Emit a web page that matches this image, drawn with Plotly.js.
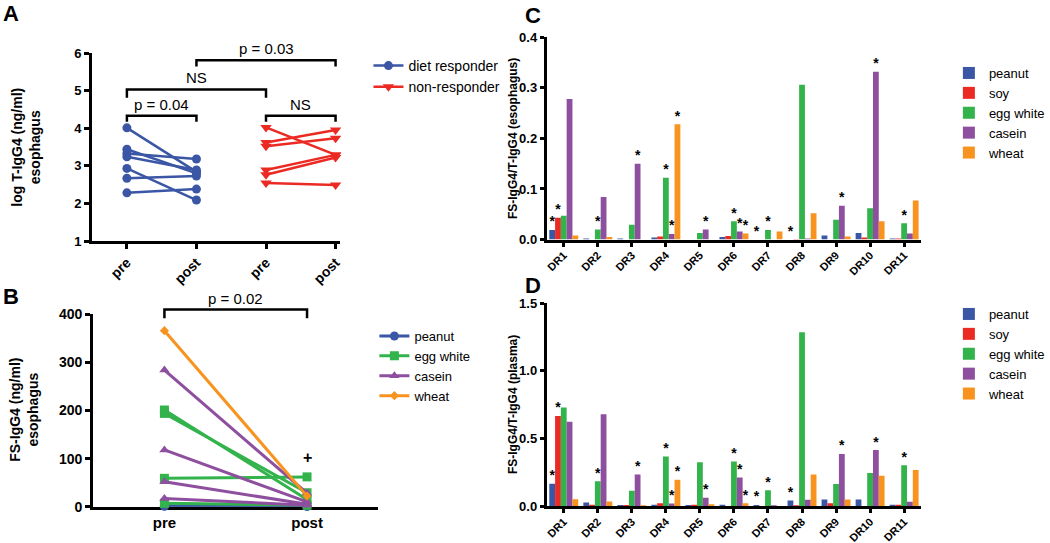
<!DOCTYPE html>
<html>
<head>
<meta charset="utf-8">
<script src="https://cdn.plot.ly/plotly-3.0.1.min.js"></script>
<style>
	html, body { margin: 0; padding: 0; background: #fff; }
	#chart { width: 1050px; height: 543px; }
</style>
</head>
<body>
<div id="chart"></div>
<script>
(function(){

	'use strict';

	/**
	* Data
	*/
	// A - log T-IgG4, esophagus
	const aTickLabels = ['pre', 'post', 'pre', 'post'];
	const responderPre  = [4.01, 3.44, 3.33, 3.24, 2.93, 2.67, 2.28];
	const responderPost = [2.84, 2.80, 3.18, 2.89, 2.09, 2.73, 2.38];
	const nonResponderPre  = [4.02, 3.62, 3.52, 2.89, 2.76, 2.54];
	const nonResponderPost = [3.29, 3.95, 3.73, 3.29, 3.22, 2.49];
	const aBrackets = [ [0, 1, 4.33, 4.17], [0, 2, 5.03, 4.81], [1, 3, 5.81, 5.64], [2, 3, 4.33, 4.17] ];
	const aBracketLabels = ['p = 0.04', 'NS', 'p = 0.03', 'NS'];

	// B - FS-IgG4, esophagus (one pre/post pair per patient)
	const bTickLabels = ['pre', 'post'];
	const peanutPre  = [1, 2];
	const peanutPost = [1, 1];
	const eggPre  = [201, 194, 59, 7];
	const eggPost = [15, 29, 62, 3];
	const caseinPre  = [284, 118, 52, 17];
	const caseinPost = [28, 10, 5, 3];
	const wheatPre  = [366];
	const wheatPost = [22];
	const bBracket = [0, 1, 410, 392];
	const bBracketLabel = 'p = 0.02';
	const bPlus = [1, 103];

	// C & D - FS-IgG4/T-IgG4
	const drLabels = ['DR1','DR2','DR3','DR4','DR5','DR6','DR7','DR8','DR9','DR10','DR11'];
	const allergens = ['peanut', 'soy', 'egg white', 'casein', 'wheat'];

	const esoPeanut = [0.019, 0.002, 0.002, 0.004, 0, 0.005, 0, 0, 0.008, 0.013, 0.002];
	const esoSoy    = [0.043, 0, 0, 0.006, 0, 0.007, 0, 0.001, 0, 0.004, 0.002];
	const esoEgg    = [0.047, 0.020, 0.029, 0.122, 0.013, 0.036, 0.019, 0.306, 0.039, 0.062, 0.032];
	const esoCasein = [0.278, 0.084, 0.150, 0.011, 0.020, 0.016, 0, 0.002, 0.067, 0.332, 0.012];
	const esoWheat  = [0.008, 0.005, 0, 0.228, 0, 0.012, 0.016, 0.052, 0.006, 0.036, 0.077];

	const plasmaPeanut = [0.165, 0.026, 0.008, 0.010, 0.008, 0.010, 0.008, 0.041, 0.049, 0.049, 0.010];
	const plasmaSoy    = [0.666, 0.010, 0.008, 0.020, 0.010, 0, 0, 0.005, 0.020, 0, 0.010];
	const plasmaEgg    = [0.728, 0.184, 0.112, 0.366, 0.323, 0.330, 0.116, 1.285, 0.163, 0.244, 0.301];
	const plasmaCasein = [0.624, 0.679, 0.234, 0.018, 0.061, 0.210, 0.006, 0.046, 0.385, 0.414, 0.032];
	const plasmaWheat  = [0.050, 0.033, 0.005, 0.195, 0.013, 0.021, 0, 0.234, 0.049, 0.224, 0.266];

	// significance (*) flags, same in C and D
	const starPeanut = [1,0,0,0,0,0,1,1,0,0,0];
	const starSoy    = [1,0,0,0,0,0,0,0,0,0,0];
	const starEgg    = [0,1,0,1,0,1,1,0,0,0,1];
	const starCasein = [0,0,1,1,1,1,0,0,1,1,0];
	const starWheat  = [0,0,0,1,0,1,0,0,0,0,0];

	/**
	* Styles
	*/
	const FONT = '"Liberation Sans", Arial, sans-serif';
	const colors = {
		blue: '#3b56a5',
		red: '#ec2a24',
		green: '#33b34b',
		purple: '#8e4f9f',
		orange: '#f7931e',
	};
	const allergenColors = [ colors.blue, colors.red, colors.green, colors.purple, colors.orange ];

	// page pixels -> paper
	const W = 1050, H = 543;
	const px = ( x ) => x / W;
	const py = ( y ) => 1 - y / H;

	// panel boxes (pixels)
	const box = {
		a: { x: [93, 343], y: [241, 53] },
		b: { x: [94, 382], y: [506.7, 314.3] },
		c: { x: [552, 930], y: [239.5, 37.3] },
		d: { x: [552, 930], y: [506, 303.3] },
	};
	const xDomain = ( b ) => [ px( b.x[0] ), px( b.x[1] ) ];
	const yDomain = ( b ) => [ py( b.y[0] ), py( b.y[1] ) ];

	// data value -> paper (for marks above the plot area)
	const toPaperY = ( domain, range, v ) => domain[0] + ( v - range[0] ) / ( range[1] - range[0] ) * ( domain[1] - domain[0] );

	const boldFont = ( size ) => ({ family: FONT, size, weight: 'bold', color: '#000' });

	const axisBase = {
		showline: true,
		linecolor: '#000',
		linewidth: 3,
		showgrid: false,
		zeroline: false,
		ticks: 'outside',
		ticklen: 5,
		tickwidth: 3,
		tickcolor: '#000',
		fixedrange: true,
		tickfont: boldFont( 13 ),
	};

	const traces = [];

	/**
	* A & B - paired pre/post lines, one trace per patient
	*/
	const pairTraces = ( pre, post, x0, x1, opts ) => {
		pre.forEach(( v, i ) => {
			traces.push({
				type: 'scatter',
				mode: 'lines+markers',
				x: [ x0, x1 ],
				y: [ v, post[i] ],
				xaxis: opts.xaxis,
				yaxis: opts.yaxis,
				name: opts.name,
				legend: opts.legend,
				legendgroup: opts.name,
				showlegend: i === 0,
				line: { color: opts.color, width: opts.width || 2.5 },
				marker: { color: opts.color, symbol: opts.symbol, size: opts.size },
				cliponaxis: false,
				hoverinfo: 'skip',
			});
		});
	};

	pairTraces( responderPre, responderPost, 0, 1, {
		xaxis: 'x', yaxis: 'y', name: 'diet responder', legend: 'legend',
		color: colors.blue, symbol: 'circle', size: 9,
	});
	pairTraces( nonResponderPre, nonResponderPost, 2, 3, {
		xaxis: 'x', yaxis: 'y', name: 'non-responder', legend: 'legend',
		color: colors.red, symbol: 'triangle-down', size: 10,
	});

	const bSeries = [
		{ name: 'peanut', pre: peanutPre, post: peanutPost, color: colors.blue, symbol: 'circle', size: 9 },
		{ name: 'egg white', pre: eggPre, post: eggPost, color: colors.green, symbol: 'square', size: 9 },
		{ name: 'casein', pre: caseinPre, post: caseinPost, color: colors.purple, symbol: 'triangle-up', size: 9 },
		{ name: 'wheat', pre: wheatPre, post: wheatPost, color: colors.orange, symbol: 'diamond', size: 7 },
	];
	bSeries.forEach( s => {
		pairTraces( s.pre, s.post, 0, 1, {
			xaxis: 'x2', yaxis: 'y2', name: s.name, legend: 'legend2',
			color: s.color, symbol: s.symbol, size: s.size, width: 3,
		});
	});

	/**
	* C & D - grouped bars, with explicit offsets so the stars can sit on them
	*/
	const barWidth = 0.17;
	const barOffset = ( k ) => -allergens.length * barWidth / 2 + k * barWidth;
	const idx = drLabels.map(( d, i ) => i );

	const barPanel = ( series, stars, xaxis, yaxis, legend ) => {
		series.forEach(( vals, k ) => {
			traces.push({
				type: 'bar',
				x: idx,
				y: vals,
				width: barWidth,
				offset: barOffset( k ),
				xaxis, yaxis, legend,
				name: allergens[k],
				marker: { color: allergenColors[k], line: { width: 0 } },
				hoverinfo: 'skip',
			});
		});
		series.forEach(( vals, k ) => {
			const sx = [], sy = [];
			stars[k].forEach(( flag, i ) => {
				if( !flag ) return;
				sx.push( i + barOffset( k ) + barWidth / 2 );
				sy.push( vals[i] );
			});
			traces.push({
				type: 'scatter',
				mode: 'text',
				x: sx,
				y: sy,
				text: sx.map(() => '*'),
				textposition: 'top center',
				textfont: boldFont( 14 ),
				xaxis, yaxis,
				showlegend: false,
				cliponaxis: false,
				hoverinfo: 'skip',
			});
		});
	};

	const stars = [ starPeanut, starSoy, starEgg, starCasein, starWheat ];
	barPanel( [ esoPeanut, esoSoy, esoEgg, esoCasein, esoWheat ], stars, 'x3', 'y3', 'legend3' );
	barPanel( [ plasmaPeanut, plasmaSoy, plasmaEgg, plasmaCasein, plasmaWheat ], stars, 'x4', 'y4', 'legend4' );

	/**
	* Brackets & labels
	*/
	const bracket = ( xref, yref, x0, x1, yTop, yTick ) => ({
		type: 'path', xref, yref,
		path: `M${x0},${yTick} L${x0},${yTop} L${x1},${yTop} L${x1},${yTick}`,
		line: { color: '#000', width: 2.5 },
	});

	const shapes = aBrackets.map( b => bracket( 'x', 'y', b[0], b[1], b[2], b[3] ));

	const bYRange = [0, 400];
	const bYDomain = yDomain( box.b );
	shapes.push( bracket( 'x2', 'paper', bBracket[0], bBracket[1],
		toPaperY( bYDomain, bYRange, bBracket[2] ), toPaperY( bYDomain, bYRange, bBracket[3] )));

	const textFont = { family: FONT, size: 15, color: '#000' };
	const annotations = aBracketLabels.map(( label, i ) => ({
		text: label, xref: 'x', yref: 'y',
		x: ( aBrackets[i][0] + aBrackets[i][1] ) / 2,
		y: aBrackets[i][2],
		yanchor: 'bottom', yshift: 1,
		showarrow: false, font: textFont,
	}));

	annotations.push({
		text: bBracketLabel, xref: 'x2', yref: 'paper',
		x: ( bBracket[0] + bBracket[1] ) / 2,
		y: toPaperY( bYDomain, bYRange, bBracket[2] ),
		yanchor: 'bottom', yshift: 0,
		showarrow: false, font: textFont,
	});
	annotations.push({
		text: '+', xref: 'x2', yref: 'y2', x: bPlus[0], y: bPlus[1],
		showarrow: false, font: boldFont( 16 ),
	});

	// panel letters
	[ ['A', 1, 13], ['B', 1, 296], ['C', 528, 15], ['D', 528, 285] ].forEach( l => {
		annotations.push({
			text: l[0], xref: 'paper', yref: 'paper', x: px( l[1] ), y: py( l[2] ),
			xanchor: 'left', yanchor: 'middle', showarrow: false,
			font: boldFont( 22 ),
		});
	});

	// y titles
	[
		['log T-IgG4 (ng/ml)<br>esophagus', 26, 147, 14],
		['FS-IgG4 (ng/ml)<br>esophagus', 24, 410, 14],
		['FS-IgG4/T-IgG4 (esophagus)', 518, 139, 12],
		['FS-IgG4/T-IgG4 (plasma)', 518, 405, 12],
	].forEach( t => {
		annotations.push({
			text: t[0], xref: 'paper', yref: 'paper', x: px( t[1] ), y: py( t[2] ),
			xanchor: 'center', yanchor: 'middle', textangle: -90, showarrow: false,
			font: boldFont( t[3] ),
		});
	});

	/**
	* Layout
	*/
	const legendBase = {
		xanchor: 'left', yanchor: 'top',
		bgcolor: 'rgba(0,0,0,0)',
		itemwidth: 30,
		tracegroupgap: 0,
		font: { family: FONT, size: 13, color: '#000' },
	};

	const barXAxis = ( b, anchor ) => Object.assign({}, axisBase, {
		domain: xDomain( b ), anchor,
		range: [-0.5, 10.5],
		tickvals: idx, ticktext: drLabels,
		tickangle: -45,
		ticklen: 4,
		ticklabelstandoff: -2,
		tickfont: boldFont( 11 ),
	});

	const layout = {
		width: W,
		height: H,
		margin: { l: 0, r: 0, t: 0, b: 0 },
		paper_bgcolor: '#fff',
		plot_bgcolor: '#fff',
		barmode: 'overlay',
		showlegend: true,
		font: { family: FONT, color: '#000' },

		xaxis: Object.assign({}, axisBase, {
			domain: xDomain( box.a ), anchor: 'y',
			range: [-0.5, 3.06],
			tickvals: [0, 1, 2, 3], ticktext: aTickLabels,
			tickangle: -45,
			tickfont: boldFont( 14 ),
		}),
		yaxis: Object.assign({}, axisBase, {
			domain: yDomain( box.a ), anchor: 'x',
			range: [1, 6], dtick: 1,
		}),

		xaxis2: Object.assign({}, axisBase, {
			domain: xDomain( box.b ), anchor: 'y2',
			range: [-0.5, 1.5],
			tickvals: [0, 1], ticktext: bTickLabels,
			ticks: '',
			layer: 'below traces',
			tickfont: boldFont( 15 ),
		}),
		yaxis2: Object.assign({}, axisBase, {
			domain: bYDomain, anchor: 'x2',
			range: bYRange, dtick: 100,
			tickfont: boldFont( 14 ),
		}),

		xaxis3: barXAxis( box.c, 'y3' ),
		yaxis3: Object.assign({}, axisBase, {
			domain: yDomain( box.c ), anchor: 'x3',
			range: [0, 0.4], dtick: 0.1, tickformat: '.1f',
			ticklen: 4,
		}),

		xaxis4: barXAxis( box.d, 'y4' ),
		yaxis4: Object.assign({}, axisBase, {
			domain: yDomain( box.d ), anchor: 'x4',
			range: [0, 1.5], dtick: 0.5, tickformat: '.1f',
			ticklen: 4,
		}),

		legend:  Object.assign({}, legendBase, { x: px( 372 ), y: py( 50 ), font: { family: FONT, size: 14, color: '#000' } }),
		legend2: Object.assign({}, legendBase, { x: px( 378 ), y: py( 321 ) }),
		legend3: Object.assign({}, legendBase, { x: px( 958 ), y: py( 58 ) }),
		legend4: Object.assign({}, legendBase, { x: px( 958 ), y: py( 299 ) }),

		shapes,
		annotations,
	};

	Plotly.newPlot( 'chart', traces, layout, { displayModeBar: false, staticPlot: true });

})();
</script>
</body>
</html>
